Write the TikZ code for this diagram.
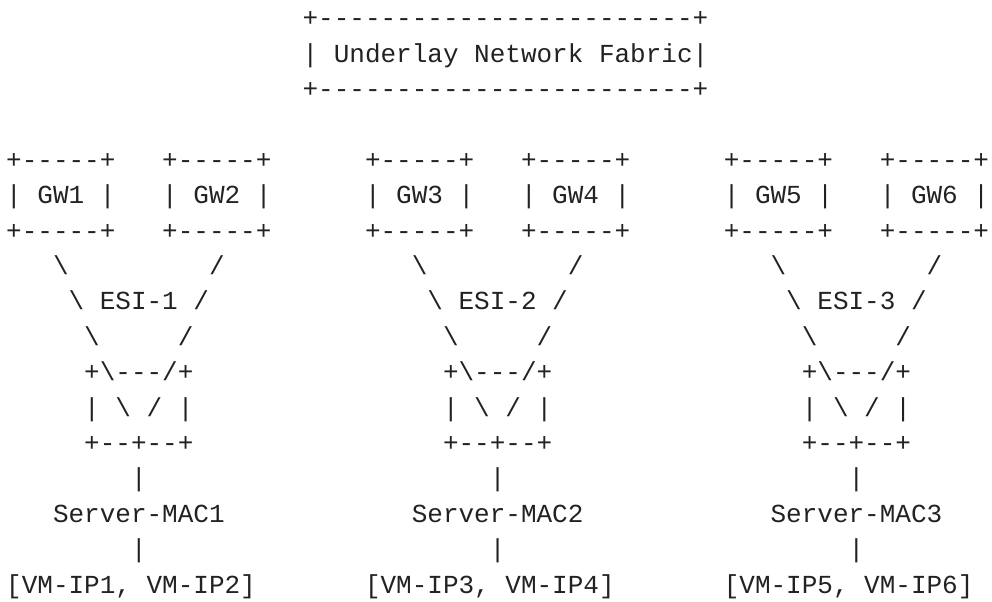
\documentclass[tikz,border=0pt]{standalone}
\usepackage{fontspec}
\setmonofont{Liberation Mono}
\definecolor{ink}{RGB}{34,34,34}
\frenchspacing
\begin{document}
\begin{tikzpicture}[
  asc/.style={anchor=base west, inner sep=0pt, outer sep=0pt, text=ink,
    font=\ttfamily\fontsize{19.5pt}{26pt}\selectfont}]
\useasboundingbox (0,0) rectangle (744pt,-450.75pt);
\begin{scope}[x=11.7pt,y=-26.55pt,shift={(4.65pt,-19.95pt)}]
  \node[asc] (fabtop) at (19,0) {+------------------------+};
  \node[asc] (fabric) at (19,1) {| Underlay Network Fabric|};
  \node[asc] (fabbot) at (19,2) {+------------------------+};
  \foreach \g/\o/\a/\b in {1/0/1/2,2/23/3/4,3/46/5/6}{
    \node[asc] (gwtopa\g) at (\o,4) {+-----+};
    \node[asc] (gwtopb\g) at (\o+10,4) {+-----+};
    \node[asc] (gwa\g) at (\o,5) {| GW\a{} |};
    \node[asc] (gwb\g) at (\o+10,5) {| GW\b{} |};
    \node[asc] (gwbota\g) at (\o,6) {+-----+};
    \node[asc] (gwbotb\g) at (\o+10,6) {+-----+};
    \node[asc] (bsa\g) at (\o+3,7) {\textbackslash};
    \node[asc] (sla\g) at (\o+13,7) {/};
    \node[asc] (esi\g) at (\o+4,8) {\textbackslash{} ESI-\g{} /};
    \node[asc] (bsb\g) at (\o+5,9) {\textbackslash};
    \node[asc] (slb\g) at (\o+11,9) {/};
    \node[asc] (swtop\g) at (\o+5,10) {+\textbackslash---/+};
    \node[asc] (swmid\g) at (\o+5,11) {| \textbackslash{} / |};
    \node[asc] (swbot\g) at (\o+5,12) {+--+--+};
    \node[asc] (vla\g) at (\o+8,13) {|};
    \node[asc] (server\g) at (\o+3,14) {Server-MAC\g};
    \node[asc] (vlb\g) at (\o+8,15) {|};
    \node[asc] (vms\g) at (\o,16) {[VM-IP\a, VM-IP\b]};
  }
\end{scope}
\end{tikzpicture}
\end{document}
